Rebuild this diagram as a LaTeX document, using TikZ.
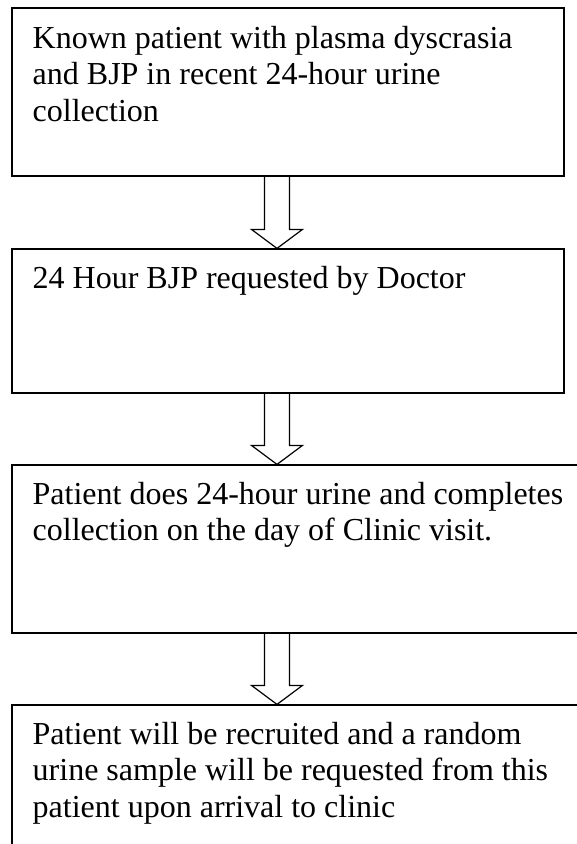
\documentclass[tikz,border=0pt]{standalone}
\usepackage{fontspec}
\setmainfont{Liberation Serif}
\usetikzlibrary{calc}
\tikzset{
  stepbox/.style={draw=black,line width=1.2pt,rectangle,inner sep=0pt},
  steptext/.style={anchor=base west,inner sep=0pt,align=left,
    font=\fontsize{32}{36.8}\selectfont},
  blockarrow/.style={draw=black,line width=1.2pt,line join=miter}
}
\begin{document}
\begin{tikzpicture}[x=1pt,y=-1pt]
    \useasboundingbox (0,0) rectangle (577,844);
    \clip (0,0) rectangle (577,844);

    % boxes
    \node[stepbox,minimum width=552pt,minimum height=168pt] (b1) at (288,92) {};
    \node[stepbox,minimum width=552pt,minimum height=144pt] (b2) at (288,321) {};
    \node[stepbox,minimum width=608pt,minimum height=168pt] (b3) at (316,549) {};
    \node[stepbox,minimum width=608pt,minimum height=195pt] (b4) at (316,802.5) {};

    % texts (base = last line)
    \node[steptext] (t1) at (32.5,121.6) {Known patient with plasma dyscrasia\\and BJP in recent 24-hour urine\\collection};
    \node[steptext] (t2) at (32.5,288) {24 Hour BJP requested by Doctor};
    \node[steptext] (t3) at (32.5,540.8) {Patient does 24-hour urine and completes\\collection on the day of Clinic visit.};
    \node[steptext] (t4) at (32.5,817.6) {Patient will be recruited and a random\\urine sample will be requested from this\\patient upon arrival to clinic};

    % block arrows
    \coordinate (ax) at (277,0);
    \draw[blockarrow] ($(b1.south -| ax)+(-12.5,0)$) -- ($(b2.north -| ax)+(-12.5,-19)$)
        -- ($(b2.north -| ax)+(-25.5,-19)$) -- (b2.north -| ax)
        -- ($(b2.north -| ax)+(25.5,-19)$) -- ($(b2.north -| ax)+(12.5,-19)$)
        -- ($(b1.south -| ax)+(12.5,0)$);
    \draw[blockarrow] ($(b2.south -| ax)+(-12.5,0)$) -- ($(b3.north -| ax)+(-12.5,-19)$)
        -- ($(b3.north -| ax)+(-25.5,-19)$) -- (b3.north -| ax)
        -- ($(b3.north -| ax)+(25.5,-19)$) -- ($(b3.north -| ax)+(12.5,-19)$)
        -- ($(b2.south -| ax)+(12.5,0)$);
    \draw[blockarrow] ($(b3.south -| ax)+(-12.5,0)$) -- ($(b4.north -| ax)+(-12.5,-19)$)
        -- ($(b4.north -| ax)+(-25.5,-19)$) -- (b4.north -| ax)
        -- ($(b4.north -| ax)+(25.5,-19)$) -- ($(b4.north -| ax)+(12.5,-19)$)
        -- ($(b3.south -| ax)+(12.5,0)$);
\end{tikzpicture}
\end{document}
